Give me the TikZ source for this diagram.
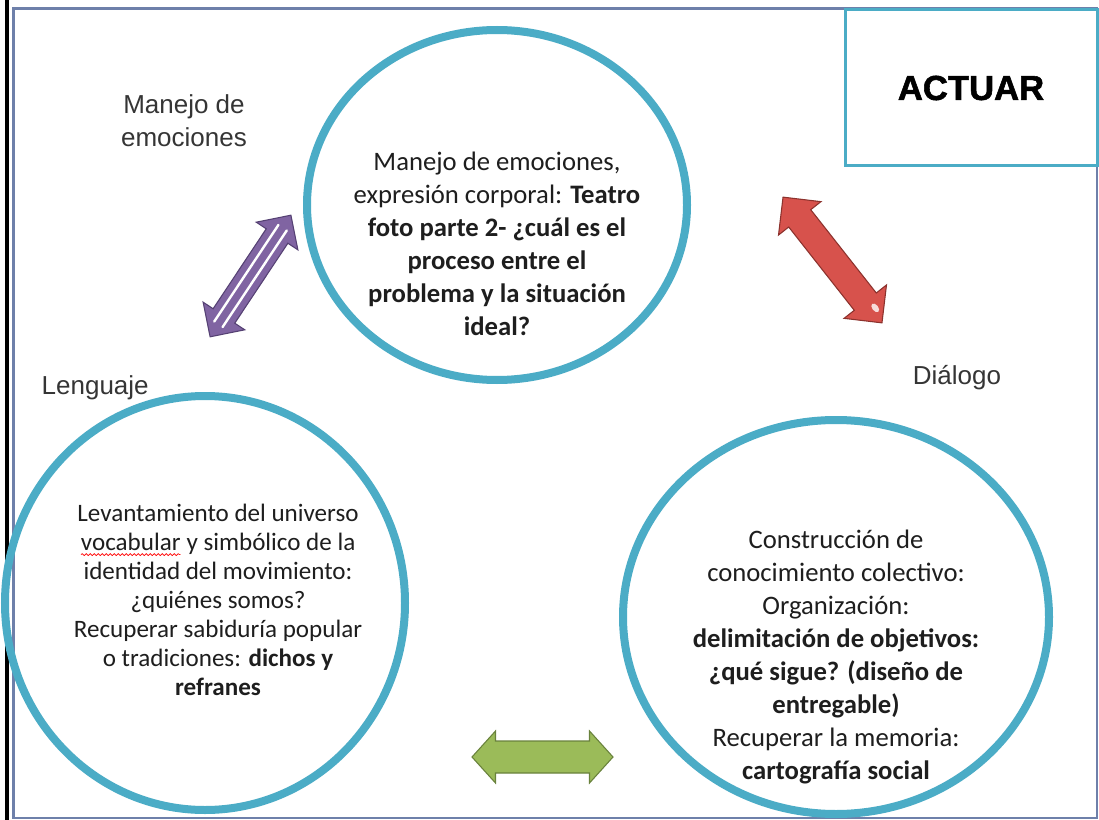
\documentclass[tikz,border=0pt]{standalone}
\usepackage{fontspec}
\setmainfont{Liberation Sans}
\newfontfamily\calib{Carlito}
\newfontfamily\heavy{Liberation Sans}[BoldFeatures={FakeBold=1.6}]
\usetikzlibrary{shapes.geometric,decorations.pathmorphing}
\definecolor{ringc}{RGB}{75,172,198}
\definecolor{framec}{RGB}{110,128,170}
\definecolor{purf}{RGB}{128,100,162}
\definecolor{purd}{RGB}{85,65,115}
\definecolor{redf}{RGB}{215,82,76}
\definecolor{redd}{RGB}{140,50,45}
\definecolor{grnf}{RGB}{155,187,89}
\definecolor{grnd}{RGB}{105,130,60}
\definecolor{txt}{RGB}{30,30,30}
\newcommand\redwave[1]{\tikz[baseline=(w.base)]{\node[inner sep=0pt,outer sep=0pt](w){#1};
  \draw[red, line width=0.5pt, decorate, decoration={snake, amplitude=0.7pt, segment length=3pt}]
    ([yshift=-3pt]w.base west) -- ([yshift=-3pt]w.base east);}}
\begin{document}
\begin{tikzpicture}[x=0.75pt,y=-0.75pt,
  ring/.style={draw=ringc, line width=6pt, ellipse, inner sep=0pt},
  ctext/.style={align=center, text=txt, font=\calib\fontsize{20}{24.75}\selectfont},
  ltext/.style={align=center, text=txt, font=\calib\fontsize{18.8}{21.75}\selectfont},
  lbl/.style={align=center, text=txt!90, font=\fontsize{19.5}{24.75}\selectfont},
  parrow/.style={fill=purf, draw=purd, line width=0.8pt, line join=miter},
  rarrow/.style={fill=redf, draw=redd, line width=0.8pt, line join=miter},
  garrow/.style={fill=grnf, draw=grnd, line width=0.8pt, line join=miter}]
\useasboundingbox (0,0) rectangle (1099,820);
\fill[white] (0,0) rectangle (1099,820);
% frames
\draw[black, line width=3pt] (7,0) -- (7,820);
\draw[framec, line width=2pt] (13.5,8.5) rectangle (1097,818);
% circles
\node[ring, minimum width=380*0.75pt, minimum height=350*0.75pt] (topc) at (497,205) {};
\node[ring, minimum width=400*0.75pt, minimum height=414*0.75pt] (leftc) at (205,603) {};
\node[ring, minimum width=426*0.75pt, minimum height=394*0.75pt] (rightc) at (836,617) {};
% action box
\node[draw=ringc, fill=white, line width=2.25pt, minimum width=252*0.75pt, minimum height=156*0.75pt,
  font=\heavy\fontsize{26}{30}\selectfont\bfseries] (actuar) at (971,88) {ACTUAR};
% labels
\node[lbl] (lmanejo) at (184,121) {Manejo de\\emociones};
\node[lbl, anchor=west] (llenguaje) at (37,388) {Lenguaje};
\node[lbl] (ldialogo) at (957,378) {Diálogo};
% circle texts
\node[ctext] (ttop) at (497,244) {Manejo de emociones,\\
expresión corporal: \textbf{Teatro}\\
\textbf{foto parte 2- ¿cuál es el}\\
\textbf{proceso entre el}\\
\textbf{problema y la situación}\\
\textbf{ideal?}};
\node[ltext] (tleft) at (218,600) {Levantamiento del universo\\
\redwave{vocabular} y simbólico de la\\
identidad del movimiento:\\
¿quiénes somos?\\
Recuperar sabiduría popular\\
o tradiciones: \textbf{dichos y}\\
\textbf{refranes}};
\node[ctext] (tright) at (836,657) {Construcción de\\
conocimiento colectivo:\\
Organización:\\
\textbf{delimitación de objetivos:}\\
\textbf{¿qué sigue? (diseño de}\\
\textbf{entregable)}\\
Recuperar la memoria:\\
\textbf{cartografía social}};
% purple double arrow
\begin{scope}[shift={(250.5,276)}, rotate=56.4]
  \draw[parrow] (-73,0) -- (-48,-25) -- (-48,-13) -- (48,-13) -- (48,-25) -- (73,0)
    -- (48,25) -- (48,13) -- (-48,13) -- (-48,25) -- cycle;
  \draw[white, line width=1.8pt, line cap=round] (-58,-5) -- (58,-5);
  \draw[white, line width=1.8pt, line cap=round] (-58,5) -- (58,5);
\end{scope}
% red double arrow
\begin{scope}[shift={(832.5,260)}, rotate=-51.8]
  \draw[rarrow] (-80,0) -- (-53,-27) -- (-53,-14) -- (53,-14) -- (53,-27) -- (80,0)
    -- (53,27) -- (53,14) -- (-53,14) -- (-53,27) -- cycle;
  \fill[white, opacity=0.8] (64,-4) ellipse [x radius=5, y radius=3];
\end{scope}
% green double arrow
\begin{scope}[shift={(542.5,757)}]
  \draw[garrow] (-70.5,0) -- (-47,-26) -- (-47,-16) -- (47,-16) -- (47,-26) -- (70.5,0)
    -- (47,26) -- (47,16) -- (-47,16) -- (-47,26) -- cycle;
\end{scope}
\end{tikzpicture}
\end{document}
